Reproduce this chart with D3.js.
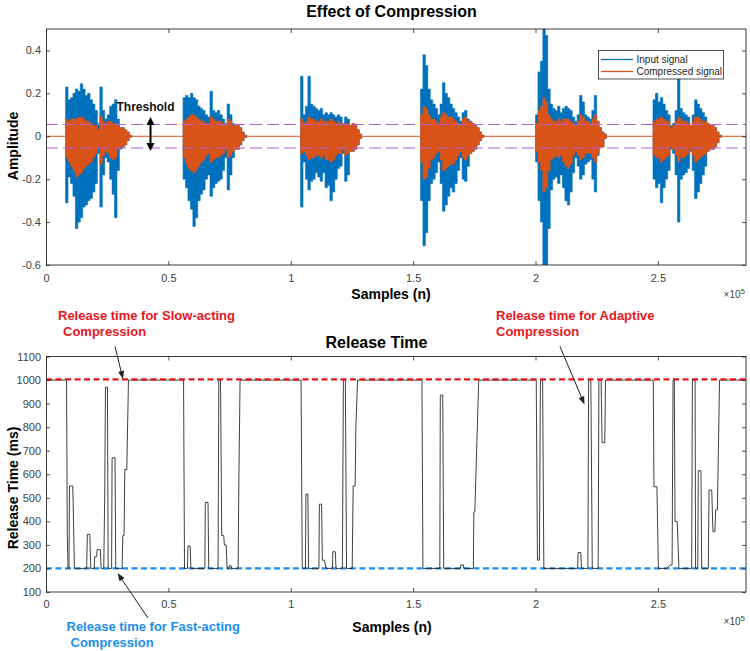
<!DOCTYPE html>
<html><head><meta charset="utf-8">
<script src="https://cdn.jsdelivr.net/npm/d3@7"></script>
<style>
body{margin:0;background:#fff;}
svg{display:block;}
text{font-family:"Liberation Sans",Arial,Helvetica,sans-serif;}
</style>
</head><body>
<svg id="c" width="750" height="651"></svg>
<script>
// ---------------- DATA ----------------
// x in thousands of samples
const signalLengthK = 286;
const xTickValues = [0, 50, 100, 150, 200, 250];
const xTickLabels = ["0", "0.5", "1", "1.5", "2", "2.5"];
const ampTickValues = [0.4, 0.2, 0, -0.2, -0.4, -0.6];
const ampTickLabels = ["0.4", "0.2", "0", "-0.2", "-0.4", "-0.6"];
const rtTickValues = [100, 200, 300, 400, 500, 600, 700, 800, 900, 1000, 1100];
const rtTickLabels = ["100","200","300","400","500","600","700","800","900","1000","1100"];
const threshold = 0.055;
const slowRelease = 1003;
const fastRelease = 200;

// Speech bursts (envelopes sampled every 1000 samples), start in k-samples
const segStartK = [8, 56, 104, 153, 200, 248];
const inputMax = [
 [.23,.17,.18,.20,.22,.21,.245,.22,.19,.20,.17,.15,.12,.06,.23,.12,.08,.10,.14,.15,.17,.08,.04,.04,.03,.02,.005],
 [.18,.19,.18,.20,.18,.17,.14,.13,.12,.10,.09,.21,.12,.11,.12,.10,.08,.06,.15,.10,.06,.05,.05,.04,.02,.005],
 [.28,.10,.14,.28,.15,.14,.13,.12,.13,.10,.11,.10,.11,.10,.09,.10,.09,.06,.09,.08,.05,.06,.05,.03,.01],
 [.22,.38,.33,.22,.17,.15,.13,.10,.15,.25,.20,.18,.15,.13,.11,.09,.07,.11,.12,.08,.07,.06,.05,.04,.02,.005],
 [.10,.30,.35,.52,.47,.22,.15,.13,.12,.14,.11,.13,.14,.13,.12,.09,.07,.10,.19,.16,.10,.09,.08,.12,.19,.07,.04,.02,.01],
 [.17,.20,.16,.18,.15,.12,.10,.05,.06,.12,.27,.13,.11,.10,.09,.05,.10,.17,.15,.13,.11,.09,.06,.05,.05,.04,.02,.005]
];
const inputMin = [
 [-.31,-.19,-.22,-.28,-.43,-.40,-.38,-.33,-.32,-.30,-.29,-.26,-.22,-.08,-.33,-.18,-.10,-.12,-.20,-.27,-.38,-.16,-.06,-.05,-.04,-.02,-.005],
 [-.20,-.24,-.30,-.34,-.42,-.38,-.30,-.27,-.25,-.20,-.18,-.28,-.24,-.22,-.21,-.20,-.16,-.10,-.25,-.18,-.10,-.06,-.06,-.04,-.02,-.005],
 [-.33,-.12,-.20,-.25,-.21,-.20,-.17,-.19,-.21,-.17,-.24,-.23,-.30,-.26,-.20,-.15,-.14,-.08,-.21,-.18,-.07,-.07,-.06,-.04,-.01],
 [-.30,-.51,-.45,-.30,-.22,-.20,-.17,-.12,-.22,-.35,-.32,-.28,-.24,-.26,-.22,-.16,-.10,-.20,-.21,-.14,-.08,-.07,-.06,-.04,-.02,-.005],
 [-.12,-.30,-.40,-.62,-.62,-.43,-.25,-.20,-.19,-.22,-.18,-.24,-.30,-.32,-.26,-.17,-.10,-.14,-.20,-.18,-.13,-.12,-.11,-.20,-.26,-.09,-.05,-.05,-.01],
 [-.20,-.24,-.22,-.31,-.24,-.20,-.16,-.06,-.08,-.18,-.40,-.20,-.18,-.17,-.15,-.07,-.16,-.29,-.26,-.22,-.18,-.14,-.07,-.06,-.06,-.05,-.03,-.005]
];
const compMax = [
 [.08,.07,.08,.08,.08,.09,.09,.08,.07,.07,.06,.05,.05,.03,.09,.07,.06,.07,.07,.06,.06,.05,.04,.04,.03,.02,.005],
 [.07,.08,.09,.10,.10,.09,.08,.07,.07,.06,.06,.09,.08,.07,.07,.07,.06,.05,.08,.07,.05,.05,.05,.04,.02,.005],
 [.08,.06,.07,.09,.08,.08,.07,.07,.08,.07,.07,.07,.08,.07,.06,.07,.06,.05,.06,.06,.05,.06,.05,.03,.01],
 [.10,.14,.13,.10,.08,.08,.07,.06,.09,.11,.10,.09,.09,.08,.07,.06,.05,.08,.09,.07,.07,.06,.05,.04,.02,.005],
 [.06,.12,.14,.18,.16,.10,.08,.07,.07,.08,.07,.08,.08,.08,.07,.06,.05,.07,.10,.09,.07,.07,.06,.08,.10,.07,.04,.02,.01],
 [.07,.08,.08,.09,.08,.07,.07,.04,.05,.07,.09,.08,.07,.07,.06,.05,.07,.09,.09,.08,.07,.07,.06,.05,.05,.04,.02,.005]
];
const compMin = [
 [-.10,-.12,-.14,-.16,-.19,-.18,-.17,-.15,-.14,-.13,-.12,-.10,-.08,-.05,-.13,-.09,-.07,-.08,-.10,-.11,-.10,-.06,-.05,-.05,-.04,-.02,-.005],
 [-.10,-.13,-.15,-.16,-.17,-.16,-.14,-.12,-.11,-.09,-.08,-.12,-.11,-.10,-.10,-.09,-.08,-.06,-.10,-.09,-.07,-.06,-.06,-.04,-.02,-.005],
 [-.08,-.07,-.09,-.11,-.10,-.10,-.09,-.09,-.10,-.09,-.11,-.11,-.12,-.11,-.09,-.08,-.08,-.06,-.09,-.08,-.07,-.07,-.06,-.04,-.01],
 [-.12,-.20,-.19,-.15,-.11,-.10,-.08,-.07,-.11,-.16,-.15,-.14,-.13,-.13,-.11,-.09,-.07,-.10,-.11,-.09,-.08,-.07,-.06,-.04,-.02,-.005],
 [-.07,-.12,-.16,-.26,-.24,-.16,-.11,-.10,-.09,-.10,-.09,-.12,-.14,-.15,-.13,-.09,-.07,-.09,-.11,-.10,-.08,-.08,-.08,-.10,-.12,-.08,-.05,-.05,-.01],
 [-.09,-.10,-.10,-.12,-.11,-.10,-.09,-.05,-.06,-.09,-.12,-.10,-.10,-.09,-.08,-.06,-.09,-.12,-.11,-.10,-.09,-.08,-.07,-.06,-.06,-.05,-.03,-.005]
];

// Adaptive release time (ms) vs samples (k)
const releaseK = [0,8.4,8.7,9.0,9.4,9.6,10.9,11.1,11.6, 16.6,16.9,17.9,18.3, 19.7,19.9,20.7,20.9,22.2,22.5,
 23.6,24.0,24.3,25.1,25.4, 26.8,27.0,28.2,28.5, 31.1,31.4,31.9,32.2,33.0,33.7,
 56.2,56.6, 57.8,58.0,58.9,59.2, 64.9,65.1,66.2,66.5, 70.3,70.6,71.3,71.8,72.6,72.9,73.6,74.0,
 74.7,74.9,75.6,75.8, 78.5,78.8,79.3,
 104.2,104.7, 106.0,106.2,107.0,107.3, 111.5,111.7,112.6,112.9,113.8,114.4, 117.0,117.2,118.2,118.5,
 121.1,121.5,122.3,122.8, 125.1,125.5,126.3,126.6,127.3,
 153.6,154.0, 160.9,161.1,162.1,162.5, 169.3,169.5,170.5,170.7, 174.6,174.8,175.2,176.8,
 200.3,200.8,201.6,202.0,202.9,203.4, 217.2,217.4,218.5,218.8, 221.4,221.7,222.6,223.2,
 225.6,225.9,226.8,227.2,228.3,228.6,
 248.1,248.4,249.6,250.2, 253.6,255.0,255.8,256.2,256.7,257.0,257.9,258.6,
 263.8,264.1,265.2,265.4, 266.3,266.5,267.6,267.9,
 270.6,270.9,272.0,272.5,273.3,273.6,274.3,275.2, 286];
const releaseMs = [1000,1000,340,200,200,550,550,480,200, 200,345,345,200, 200,250,250,280,280,200,
 200,520,970,970,200, 200,670,670,200, 200,340,340,620,620,1000,
 1000,200, 200,295,295,200, 200,480,480,200, 200,1000,1000,340,340,300,300,200,
 200,212,212,200, 200,580,1000,
 1000,200, 200,516,516,200, 200,473,473,235,235,200, 200,271,271,200,
 200,1000,1000,200, 200,550,550,800,1000,
 1000,200, 200,936,936,200, 200,215,215,200, 200,440,440,1000,
 1000,235,235,1000,1000,200, 200,268,268,200, 200,1000,1000,200,
 200,1000,1000,734,734,1000,
 1000,547,547,200, 200,215,215,1000,1000,400,400,200,
 200,1000,1000,200, 200,615,615,200,
 200,533,533,356,356,448,448,1000, 1000];

// ---------------- STYLE / LAYOUT ----------------
const BLUE = "#0072BD", ORANGE = "#D95319", PURPLE = "#b45fd6";
const RED = "#e8151d", LBLUE = "#1b8ef2";
const AX = "#262626", TICK = "#404040";
const svg = d3.select("#c");

const x = d3.scaleLinear().domain([0, signalLengthK]).range([46, 746]);
const yA = d3.scaleLinear().domain([-0.6, 0.5]).range([265, 29]);
const yR = d3.scaleLinear().domain([100, 1100]).range([592, 356.5]);

const defs = svg.append("defs");
defs.append("clipPath").attr("id","clipA").append("rect")
  .attr("x",46).attr("y",29).attr("width",700).attr("height",236);
defs.append("clipPath").attr("id","clipR").append("rect")
  .attr("x",46).attr("y",356.5).attr("width",700).attr("height",235.5);

function axes(yScale, yVals, yLabs, top, bottom, xPad) {
  const fmtX = d => xTickLabels[xTickValues.indexOf(d)];
  const fmtY = d => yLabs[yVals.indexOf(d)];
  const gb = svg.append("g").attr("transform",`translate(0,${bottom})`)
    .call(d3.axisBottom(x).tickValues(xTickValues).tickFormat(fmtX).tickSizeInner(-4).tickSizeOuter(0).tickPadding(xPad));
  const gt = svg.append("g").attr("transform",`translate(0,${top})`)
    .call(d3.axisTop(x).tickValues(xTickValues).tickFormat("").tickSizeInner(-4).tickSizeOuter(0));
  const gl = svg.append("g").attr("transform",`translate(46,0)`)
    .call(d3.axisLeft(yScale).tickValues(yVals).tickFormat(fmtY).tickSizeInner(-4).tickSizeOuter(0).tickPadding(5));
  const gr = svg.append("g").attr("transform",`translate(746,0)`)
    .call(d3.axisRight(yScale).tickValues(yVals).tickFormat("").tickSizeInner(-4).tickSizeOuter(0));
  [gb,gt,gl,gr].forEach(g => {
    g.select(".domain").remove();
    g.selectAll("line").attr("stroke",AX).attr("stroke-width",0.8);
    g.selectAll("text").attr("fill",TICK).style("font-size","11px")
      .style("font-family","'Liberation Sans',Arial,sans-serif");
  });
  svg.append("rect").attr("x",46.5).attr("y",top).attr("width",699.5).attr("height",bottom-top)
    .attr("fill","none").attr("stroke",AX).attr("stroke-width",0.9);
}

// ---------------- TOP CHART ----------------
const gA = svg.append("g").attr("clip-path","url(#clipA)");
function segPoints(si, hi, lo) {
  const pts = hi[si].map((v,i) => ({k: segStartK[si] + i, hi: v, lo: lo[si][i]}));
  pts.push({k: segStartK[si] + hi[si].length, hi: 0, lo: 0});
  return pts;
}
const areaA = d3.area().x(d => x(d.k)).y0(d => yA(d.lo)).y1(d => yA(d.hi)).curve(d3.curveStepAfter);
segStartK.forEach((s,si) => {
  gA.append("path").datum(segPoints(si, inputMax, inputMin))
    .attr("d", areaA).attr("fill", BLUE).attr("stroke", BLUE).attr("stroke-width", 0.6);
});
gA.append("line").attr("x1",x(0)).attr("x2",x(signalLengthK)).attr("y1",yA(0)).attr("y2",yA(0))
  .attr("stroke",ORANGE).attr("stroke-width",1);
segStartK.forEach((s,si) => {
  gA.append("path").datum(segPoints(si, compMax, compMin))
    .attr("d", areaA).attr("fill", ORANGE).attr("stroke", ORANGE).attr("stroke-width", 0.6);
});
[threshold, -threshold].forEach(t => {
  gA.append("line").attr("x1",x(0)).attr("x2",x(signalLengthK)).attr("y1",yA(t)).attr("y2",yA(t))
    .attr("stroke",PURPLE).attr("stroke-width",1.1).attr("stroke-dasharray","12,5");
});
axes(yA, ampTickValues, ampTickLabels, 29, 265, 9);

// legend
const lg = svg.append("g");
lg.append("rect").attr("x",598.5).attr("y",50.5).attr("width",125).attr("height",28.5)
  .attr("fill","#fff").attr("stroke",AX).attr("stroke-width",0.8);
[["Input signal",BLUE,59.5],["Compressed signal",ORANGE,71.5]].forEach(([t,c,yy]) => {
  lg.append("line").attr("x1",601).attr("x2",633).attr("y1",yy).attr("y2",yy).attr("stroke",c).attr("stroke-width",1.3);
  lg.append("text").attr("x",636.5).attr("y",yy+3.5).text(t).attr("fill",AX).style("font-size","10px");
});

// titles & labels
svg.append("text").attr("x",391.5).attr("y",17).attr("text-anchor","middle")
  .style("font-size","16px").style("font-weight","bold").text("Effect of Compression");
svg.append("text").attr("transform","translate(18,146) rotate(-90)").attr("text-anchor","middle")
  .style("font-size","14px").style("font-weight","bold").text("Amplitude");
svg.append("text").attr("x",391).attr("y",299).attr("text-anchor","middle")
  .style("font-size","14px").style("font-weight","bold").text("Samples (n)");
function expLabel(yy) {
  const t = svg.append("text").attr("x",745).attr("y",yy).attr("text-anchor","end")
    .attr("fill",TICK).style("font-size","10px");
  t.append("tspan").text("\u00d710");
  t.append("tspan").attr("dy",-4).style("font-size","8px").text("5");
}
expLabel(298);

// arrows helper
function arrowHead(g, x1, y1, x2, y2, len, w, color) {
  const a = Math.atan2(y2-y1, x2-x1);
  const bx = x2 - len*Math.cos(a), by = y2 - len*Math.sin(a);
  const px = -Math.sin(a)*w/2, py = Math.cos(a)*w/2;
  g.append("path").attr("d",`M${x2},${y2}L${bx+px},${by+py}L${bx-px},${by-py}Z`).attr("fill",color);
}
function arrow(x1,y1,x2,y2,opts) {
  const o = Object.assign({color:"#222", width:1, len:8, w:6, both:false}, opts||{});
  const g = svg.append("g");
  const a = Math.atan2(y2-y1, x2-x1);
  const sx = o.both ? x1 + (o.len-1)*Math.cos(a) : x1, sy = o.both ? y1 + (o.len-1)*Math.sin(a) : y1;
  const ex = x2 - (o.len-1)*Math.cos(a), ey = y2 - (o.len-1)*Math.sin(a);
  g.append("line").attr("x1",sx).attr("y1",sy).attr("x2",ex).attr("y2",ey)
    .attr("stroke",o.color).attr("stroke-width",o.width);
  arrowHead(g,x1,y1,x2,y2,o.len,o.w,o.color);
  if (o.both) arrowHead(g,x2,y2,x1,y1,o.len,o.w,o.color);
}
svg.append("text").attr("x",116.5).attr("y",111).style("font-size","12px").style("font-weight","bold")
  .attr("fill","#111").text("Threshold");
arrow(150.5,117,150.5,151,{color:"#000",width:2,len:8,w:8,both:true});

// ---------------- BOTTOM CHART ----------------
const gR = svg.append("g").attr("clip-path","url(#clipR)");
gR.append("line").attr("x1",x(0)).attr("x2",x(signalLengthK)).attr("y1",yR(fastRelease)).attr("y2",yR(fastRelease))
  .attr("stroke",LBLUE).attr("stroke-width",2.3).attr("stroke-dasharray","6,3.5");
const rel = releaseK.map((k,i) => ({k, v: releaseMs[i]}));
gR.append("path").datum(rel)
  .attr("d", d3.line().x(d => x(d.k)).y(d => yR(d.v)))
  .attr("fill","none").attr("stroke","#2b2b2b").attr("stroke-width",0.9);
gR.append("line").attr("x1",x(0)).attr("x2",x(signalLengthK)).attr("y1",yR(slowRelease)).attr("y2",yR(slowRelease))
  .attr("stroke",RED).attr("stroke-width",2.3).attr("stroke-dasharray","6,3.5");
axes(yR, rtTickValues, rtTickLabels, 356.5, 592, 8.5);

svg.append("text").attr("x",376.5).attr("y",348).attr("text-anchor","middle")
  .style("font-size","16px").style("font-weight","bold").text("Release Time");
svg.append("text").attr("transform","translate(18,488) rotate(-90)").attr("text-anchor","middle")
  .style("font-size","14px").style("font-weight","bold").text("Release Time (ms)");
svg.append("text").attr("x",392).attr("y",632).attr("text-anchor","middle")
  .style("font-size","14px").style("font-weight","bold").text("Samples (n)");
expLabel(625);

function note(x0, y0, lines, color, indent) {
  lines.forEach((t,i) => {
    svg.append("text").attr("x", x0 + (i ? indent : 0)).attr("y", y0 + i*16)
      .attr("fill", color).style("font-size","13px").style("font-weight","bold").text(t);
  });
}
note(58, 320, ["Release time for Slow-acting", "Compression"], RED, 5);
note(496, 320, ["Release time for Adaptive", "Compression"], RED, 0);
note(66.5, 631, ["Release time for Fast-acting", "Compression"], LBLUE, 4);

arrow(115,346.5,123,379,{len:8,w:6});
arrow(148,618,117.5,573,{len:8,w:6});
arrow(560,346.5,584.5,404.5,{len:8,w:6});
</script>
</body></html>
